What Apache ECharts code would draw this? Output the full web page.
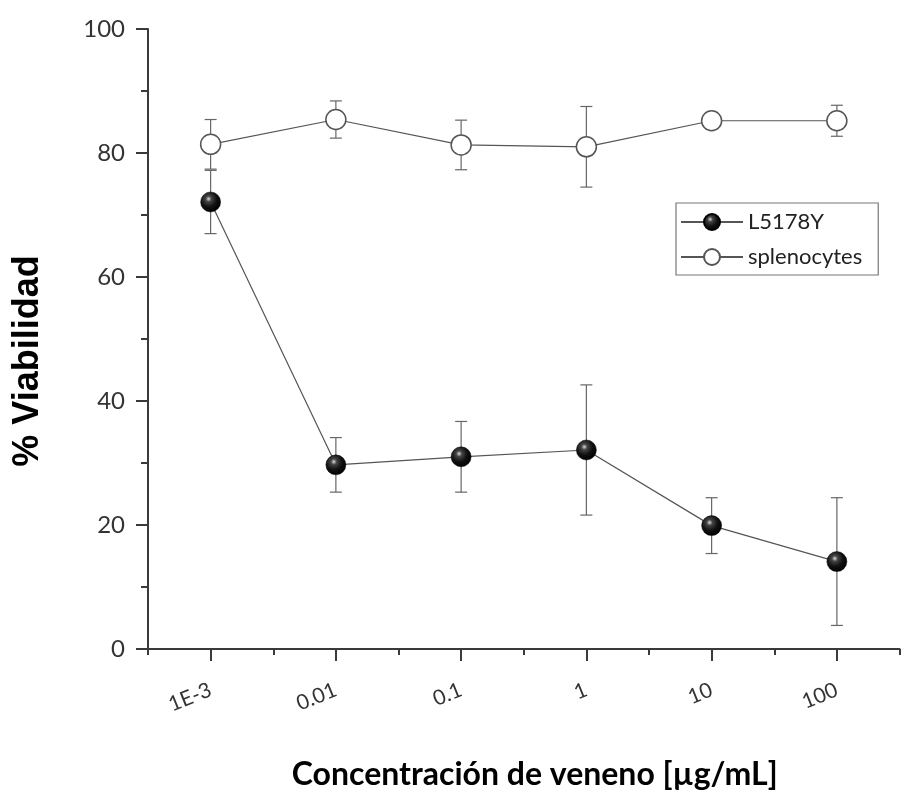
<!DOCTYPE html>
<html>
<head>
<meta charset="utf-8">
<script src="https://cdn.jsdelivr.net/npm/echarts@6/dist/echarts.min.js"></script>
<style>
html,body{margin:0;padding:0;background:#fff;}
#chart{width:901px;height:795px;}
</style>
</head>
<body>
<div id="chart"></div>
<script>
// Concentrations (µg/mL) and tick labels
const concentrations = [0.001, 0.01, 0.1, 1, 10, 100];
const tickLabels = ['1E-3', '0.01', '0.1', '1', '10', '100'];
const seriesNames = ['L5178Y', 'splenocytes'];
// % viability means and error (±)
const l5178yMean = [72.1, 29.7, 31.0, 32.1, 19.9, 14.1];
const l5178yErr  = [5.1, 4.4, 5.7, 10.5, 4.5, 10.3];
const splenoMean = [81.4, 85.4, 81.3, 81.0, 85.2, 85.2];
const splenoErr  = [4.0, 3.0, 4.0, 6.5, 1.0, 2.5];

const logX = concentrations.map(c => Math.log10(c));
const majorTicks = logX.slice();
const minorTicks = [-3.5, -2.5, -1.5, -0.5, 0.5, 1.5, 2.5];

const FONT = 'Lato, "Open Sans", sans-serif';

function points(means) { return logX.map((x, i) => [x, means[i]]); }
function errData(means, errs) { return logX.map((x, i) => [x, means[i] - errs[i], means[i] + errs[i]]); }

function errRender(params, api) {
  const x = api.value(0);
  const lo = api.coord([x, api.value(1)]);
  const hi = api.coord([x, api.value(2)]);
  const hw = 6;
  const style = { stroke: '#666', lineWidth: 1.2 };
  return {
    type: 'group',
    children: [
      { type: 'line', shape: { x1: lo[0], y1: lo[1], x2: hi[0], y2: hi[1] }, style },
      { type: 'line', shape: { x1: lo[0] - hw, y1: lo[1], x2: lo[0] + hw, y2: lo[1] }, style },
      { type: 'line', shape: { x1: hi[0] - hw, y1: hi[1], x2: hi[0] + hw, y2: hi[1] }, style }
    ]
  };
}

const sphere = {
  type: 'radial', x: 0.4, y: 0.35, r: 0.65,
  colorStops: [
    { offset: 0, color: '#d8d8d8' },
    { offset: 0.22, color: '#444' },
    { offset: 0.6, color: '#111' },
    { offset: 1, color: '#000' }
  ]
};

const chart = echarts.init(document.getElementById('chart'), null, { renderer: 'canvas' });
const axisLineStyle = { color: '#3a3a3a', width: 2 };

chart.setOption({
  backgroundColor: '#fff',
  animation: false,
  grid: { left: 148, right: 1.5, top: 29, bottom: 146, containLabel: false, outerBoundsMode: 'none' },
  legend: {
    data: seriesNames,
    orient: 'vertical',
    left: 676, top: 203,
    padding: [8, 16, 7, 4],
    itemWidth: 62, itemHeight: 20, itemGap: 13,
    borderColor: '#777', borderWidth: 1.2,
    textStyle: { fontFamily: FONT, fontSize: 22, color: '#222' }
  },
  xAxis: [
    {
      type: 'value', min: -3.5, max: 2.5,
      splitLine: { show: false },
      axisLine: { show: true, onZero: false, lineStyle: axisLineStyle },
      axisTick: { show: true, length: 12, customValues: majorTicks, lineStyle: axisLineStyle },
      axisLabel: {
        customValues: majorTicks,
        rotate: 22, margin: 40,
        fontFamily: FONT, fontSize: 21, color: '#333',
        formatter: v => { const i = majorTicks.findIndex(t => Math.abs(t - v) < 1e-6); return i >= 0 ? tickLabels[i] : ''; }
      },
      name: 'Concentración de veneno [µg/mL]',
      nameLocation: 'middle', nameGap: 110,
      nameTextStyle: { fontFamily: FONT, fontSize: 32, fontWeight: 'bold', color: '#000', padding: [0, 0, 0, 22] }
    },
    {
      type: 'value', min: -3.5, max: 2.5, position: 'bottom',
      splitLine: { show: false },
      axisLine: { show: false, onZero: false },
      axisTick: { show: true, length: 6, customValues: minorTicks, lineStyle: axisLineStyle },
      axisLabel: { show: false }
    }
  ],
  yAxis: [
    {
      type: 'value', min: 0, max: 100, interval: 20,
      splitLine: { show: false },
      axisLine: { show: true, onZero: false, lineStyle: axisLineStyle },
      axisTick: { show: true, length: 12, lineStyle: axisLineStyle },
      minorTick: { show: true, splitNumber: 2, length: 7, lineStyle: axisLineStyle },
      axisLabel: { margin: 23, fontFamily: FONT, fontSize: 24, color: '#333' },
      name: '% Viabilidad',
      nameLocation: 'middle', nameGap: 102, nameRotate: 90,
      nameTextStyle: { fontFamily: '"Liberation Sans", Arial, sans-serif', fontSize: 36, fontWeight: 'bold', color: '#000', padding: [0, 44, 0, 0] }
    }
  ],
  series: [
    {
      type: 'custom', name: 'L5178Y err', xAxisIndex: 0, z: 1, silent: true,
      renderItem: errRender, data: errData(l5178yMean, l5178yErr), encode: { x: 0, y: [1, 2] }
    },
    {
      type: 'custom', name: 'spleno err', xAxisIndex: 0, z: 1, silent: true,
      renderItem: errRender, data: errData(splenoMean, splenoErr), encode: { x: 0, y: [1, 2] }
    },
    {
      type: 'line', name: 'L5178Y', xAxisIndex: 0, z: 3,
      data: points(l5178yMean),
      symbol: 'circle', symbolSize: 20,
      lineStyle: { color: '#555', width: 1.2 },
      itemStyle: { color: sphere, borderColor: '#000', borderWidth: 0.5 }
    },
    {
      type: 'line', name: 'splenocytes', xAxisIndex: 0, z: 3,
      data: points(splenoMean),
      symbol: 'circle', symbolSize: 20,
      lineStyle: { color: '#555', width: 1.2 },
      itemStyle: { color: '#fff', borderColor: '#555', borderWidth: 1.5 }
    }
  ]
});
</script>
</body>
</html>
